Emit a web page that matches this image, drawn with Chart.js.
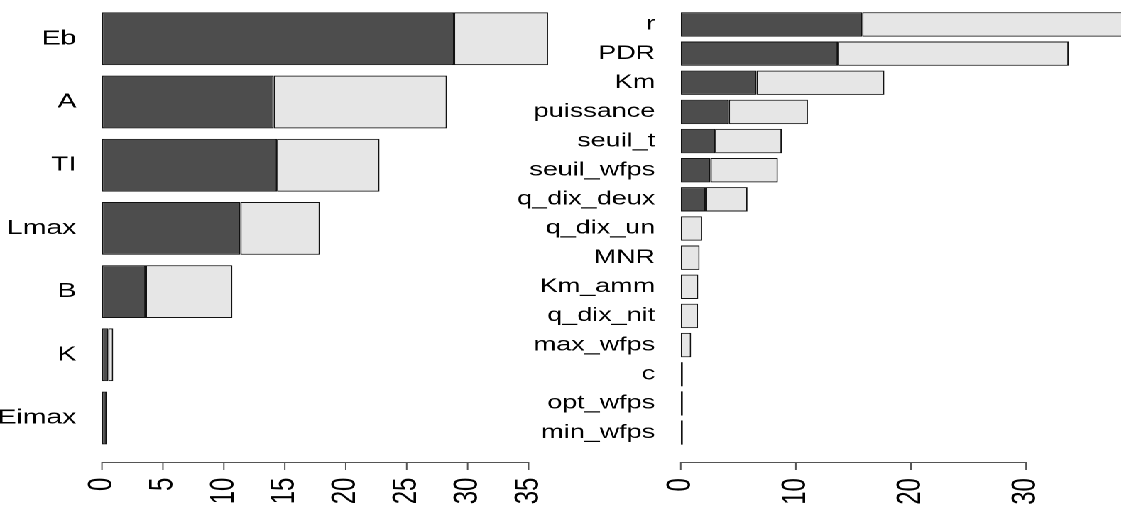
<!DOCTYPE html>
<html>
<head>
<meta charset="utf-8">
<script src="https://cdn.jsdelivr.net/npm/chart.js@4"></script>
<style>
body { margin: 0; background: #fff; overflow: hidden; }
/* the reference is stretched sideways, so draw narrow and widen with CSS */
#wrap { position: relative; width: 790px; height: 509px; transform: scaleX(1.42); transform-origin: 0 0; }
#leftChart { position: absolute; left: 0; top: 0; width: 400px; height: 509px; }
#rightChart { position: absolute; left: 360px; top: 0; width: 430px; height: 509px; }
</style>
</head>
<body>
<div id="wrap">
	<canvas id="leftChart" width="400" height="509"></canvas>
	<canvas id="rightChart" width="430" height="509"></canvas>
</div>
<script>
// LEFT PANEL DATA
var leftLabels = ['Eb', 'A', 'TI', 'Lmax', 'B', 'K', 'Eimax'];
var leftDark = [28.87, 14.1, 14.36, 11.35, 3.58, 0.51, 0.38];
var leftLight = [7.73, 14.2, 8.41, 6.53, 7.12, 0.41, null];

// RIGHT PANEL DATA
var rightLabels = ['r', 'PDR', 'Km', 'puissance', 'seuil_t', 'seuil_wfps', 'q_dix_deux',
	'q_dix_un', 'MNR', 'Km_amm', 'q_dix_nit', 'max_wfps', 'c', 'opt_wfps', 'min_wfps'];
var rightDark = [15.76, 13.65, 6.58, 4.16, 2.98, 2.58, 2.17, null, null, null, null, null, 0.15, 0.04, 0.03];
var rightLight = [24.2, 20.05, 11.11, 6.89, 5.8, 5.86, 3.63, 1.86, 1.64, 1.52, 1.5, 0.9, null, null, null];

var darkColor = '#4d4d4d';
var lightColor = '#e6e6e6';
var AXIS_Y = 462;

// R style axis: line only from first to last tick, a little below the bars
var rAxis = {
	id: 'rAxis',
	afterDraw: function(chart) {
		var x = chart.scales.x;
		var ctx = chart.ctx;
		var vals = x.ticks.map(function(t) { return t.value; });
		ctx.save();
		ctx.strokeStyle = '#555';
		ctx.lineWidth = 1;
		ctx.beginPath();
		ctx.moveTo(x.getPixelForValue(vals[0]) - 0.5, AXIS_Y + 0.5);
		ctx.lineTo(x.getPixelForValue(vals[vals.length - 1]) + 0.5, AXIS_Y + 0.5);
		vals.forEach(function(v) {
			var px = x.getPixelForValue(v);
			ctx.moveTo(px, AXIS_Y);
			ctx.lineTo(px, AXIS_Y + 8);
		});
		ctx.stroke();
		ctx.restore();
	}
};

function makeChart(id, labels, dark, light, opts) {
	var ds = function(data, color, minLen) {
		return {
			data: data,
			backgroundColor: color,
			borderColor: '#111',
			borderWidth: 1,
			borderSkipped: false,
			minBarLength: minLen,
			barPercentage: 0.835,
			categoryPercentage: 1
		};
	};
	return new Chart(id, {
		type: 'bar',
		data: {
			labels: labels,
			datasets: [ds(dark, darkColor, 1.5), ds(light, lightColor, 0)]
		},
		plugins: [rAxis],
		options: {
			indexAxis: 'y',
			responsive: false,
			devicePixelRatio: 2,
			animation: false,
			layout: { padding: { top: opts.top, right: opts.right, left: 0, bottom: 0 } },
			plugins: { legend: { display: false }, tooltip: { enabled: false } },
			scales: {
				x: {
					stacked: true,
					min: 0,
					max: opts.max,
					grid: { display: false, drawTicks: false },
					border: { display: false },
					ticks: {
						stepSize: opts.step,
						includeBounds: false,
						autoSkip: false,
						minRotation: 90,
						maxRotation: 90,
						padding: opts.tickPad,
						color: '#000',
						font: { family: 'Liberation Sans', size: 24 }
					},
					afterFit: function(scale) {
						scale.height = opts.xHeight;
						scale.paddingLeft = 0;
						scale.paddingRight = 0;
					}
				},
				y: {
					stacked: true,
					grid: { display: false, drawTicks: false },
					border: { display: false },
					ticks: {
						autoSkip: false,
						padding: 18,
						color: '#000',
						font: { family: 'Liberation Sans', size: opts.labelSize }
					},
					afterFit: function(scale) {
						scale.width = opts.yWidth;
						scale.paddingTop = 0;
						scale.paddingBottom = 0;
					}
				}
			}
		}
	});
}

makeChart('leftChart', leftLabels, leftDark, leftLight,
	{ max: 38, step: 5, top: 7.2, right: 2, xHeight: 59.4, yWidth: 71.8, tickPad: 28, labelSize: 20 });

makeChart('rightChart', rightLabels, rightDark, rightLight,
	{ max: 38.32, step: 10, top: 9.9, right: 0, xHeight: 61.9, yWidth: 119.4, tickPad: 31, labelSize: 19 });
</script>
</body>
</html>
